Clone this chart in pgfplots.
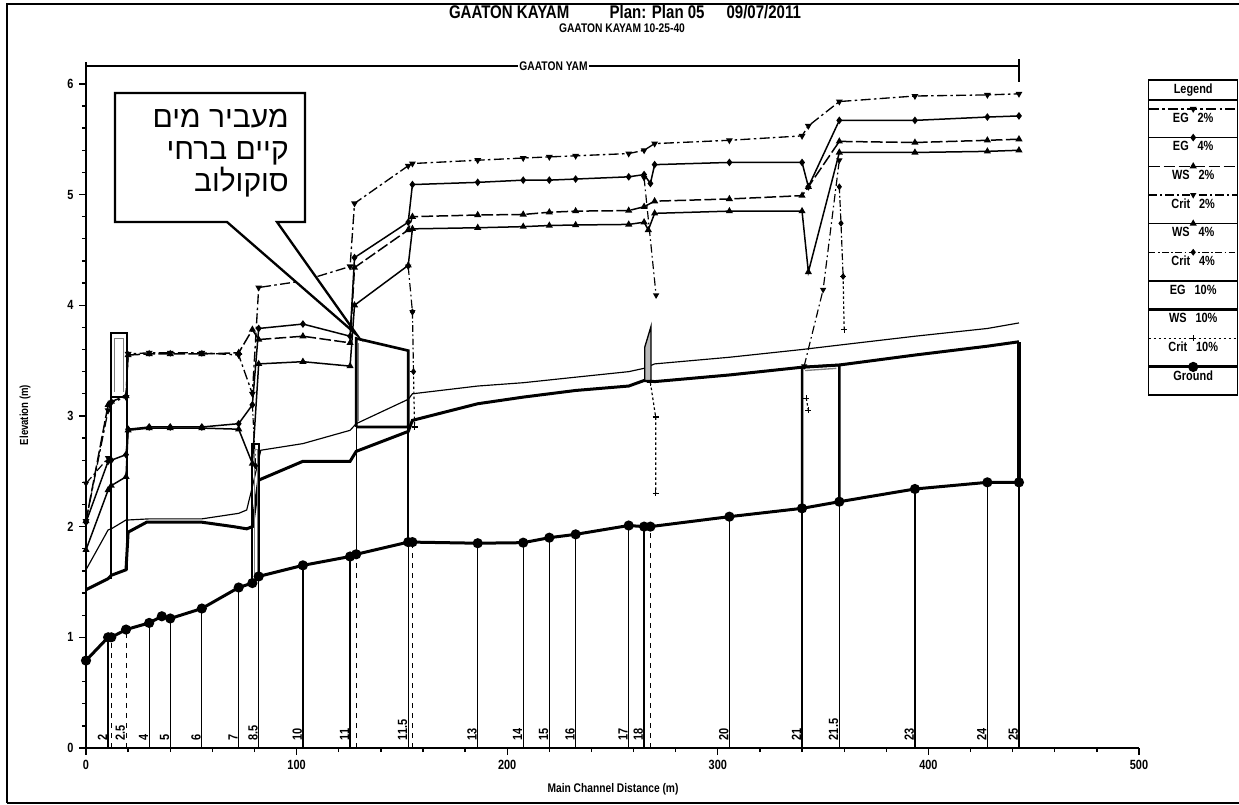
\documentclass[border=0pt]{standalone}
\usepackage{fontspec}
\setmainfont{Liberation Sans}[FakeStretch=0.82]
\newfontfamily\hebfont[Script=Hebrew]{Liberation Sans}
\usepackage{pgfplots}
\pgfplotsset{compat=1.18}
\TeXXeTstate=1
\begin{document}
\begin{tikzpicture}
\useasboundingbox (0,0) rectangle (743.4pt,482.4pt);
\begin{axis}[
  at={(51.6pt,33.6pt)}, anchor=south west,
  scale only axis, width=631.8pt, height=411.78pt,
  xmin=0, xmax=500, ymin=0, ymax=6.2,
  axis lines=left, axis line style={-, line width=1.1pt},
  xtick={0,100,...,500}, ytick={0,1,...,6},
  minor x tick num=4, minor y tick num=4,
  tick align=outside, major tick length=4pt, minor tick length=2.5pt,
  tick style={black, line width=0.8pt},
  ticklabel style={font=\bfseries\fontsize{8}{9}\selectfont},
  /pgf/number format/assume math mode=true,
  clip=false, unbounded coords=jump,
  legend style={at={(1.0085,0.9748)}, anchor=north west, draw=black, line width=0.9pt,
     fill=white, inner sep=0pt, row sep=0pt, column sep=0pt,
     font=\bfseries\fontsize{8}{9}\selectfont,
     nodes={inner sep=0pt, text width=53.4pt, align=center, text height=8.3pt, text depth=8.9pt}},
  legend image code/.code={\draw[overlay,#1,mark repeat=2,mark phase=2] plot coordinates {(0pt,8.3pt) (26.7pt,8.3pt) (53.4pt,8.3pt)};},
  every axis plot/.append style={black},
]
\addlegendimage{legend image code/.code={}}
\addlegendentry{Legend}
% EG 2%
\addplot[line width=0.8pt, dash pattern=on 6pt off 2pt on 1.5pt off 2pt, mark=triangle*, mark size=1.6pt, mark options={solid, rotate=180}]
 coordinates {(0,2.05)(10.5,3.05)(12,3.12)(19,3.17)(20,3.56)(30,3.57)(40,3.57)(55,3.57)(72.5,3.55)(79,3.20)(82,4.16)(103,4.22)(125.4,4.35)(127.5,4.92)(153,5.26)(155,5.28)(186,5.31)(207.6,5.33)(220,5.34)(232.5,5.35)(257.7,5.37)(265,5.40)(270,5.46)(305.5,5.49)(340,5.53)(343,5.62)(357.7,5.84)(393.6,5.89)(428,5.90)(443,5.91)};
\addlegendentry{EG\ \ 2\%}
% EG 4%
\addplot[line width=0.9pt, mark=diamond*, mark size=1.6pt, mark options={solid}]
 coordinates {(0,2.04)(10.5,2.59)(12,2.60)(19,2.65)(20,2.88)(30,2.90)(40,2.90)(55,2.90)(72.5,2.93)(79,3.10)(82,3.79)(103,3.83)(125.4,3.72)(127.5,4.43)(153,4.75)(155,5.09)(186,5.11)(207.6,5.13)(220,5.13)(232.5,5.14)(257.7,5.16)(265,5.18)(268,5.10)(270,5.27)(305.5,5.29)(340,5.29)(343,5.07)(357.7,5.67)(393.6,5.67)(428,5.70)(443,5.71)};
\addlegendentry{EG\ \ 4\%}
% WS 2%
\addplot[line width=0.9pt, dash pattern=on 7pt off 2pt, mark=triangle*, mark size=1.6pt, mark options={solid}]
 coordinates {(0,2.05)(10.5,3.10)(12,3.13)(19,3.18)(20,3.55)(30,3.56)(40,3.56)(55,3.56)(72.5,3.57)(79,3.78)(82,3.69)(103,3.72)(125.4,3.66)(127.5,4.34)(153,4.68)(155,4.80)(186,4.815)(207.6,4.82)(220,4.84)(232.5,4.85)(257.7,4.855)(265,4.89)(270,4.94)(305.5,4.96)(340,4.99)(343,5.07)(357.7,5.48)(393.6,5.47)(428,5.49)(443,5.50)};
\addlegendentry{WS\ \ 2\%}
% Crit 2%
\addplot[line width=0.7pt, dash pattern=on 5pt off 2pt on 1pt off 2pt, mark=triangle*, mark size=1.5pt, mark options={solid, rotate=180}]
 coordinates {(0,2.39)(10.5,2.62)(12,nan)(153,4.35)(155,3.94)(160,nan)(265,5.15)(270.7,4.09)(300,nan)(341,3.45)(350,4.14)(357.7,5.31)};
\addlegendentry{Crit\ \ 2\%}
% WS 4%
\addplot[line width=0.9pt, mark=triangle*, mark size=1.6pt, mark options={solid}]
 coordinates {(0,1.79)(10.5,2.33)(12,2.37)(19,2.45)(20,2.87)(30,2.89)(40,2.89)(55,2.89)(72.5,2.88)(79,2.57)(82,3.47)(103,3.49)(125.4,3.45)(127.5,4.00)(153,4.36)(155,4.69)(186,4.70)(207.6,4.71)(220,4.72)(232.5,4.725)(257.7,4.73)(265,4.75)(267,4.68)(270,4.83)(305.5,4.85)(340,4.85)(343,4.30)(357.7,5.38)(393.6,5.38)(428,5.39)(443,5.40)};
\addlegendentry{WS\ \ 4\%}
% Crit 4%
\addplot[line width=0.7pt, dash pattern=on 4pt off 1.5pt on 1pt off 1.5pt, mark=diamond*, mark size=1.5pt, mark options={solid}]
 coordinates {(79,3.10)(80.5,2.55)(100,nan)(155,3.94)(155.5,3.40)(200,nan)(357.7,5.07)(358.5,4.74)(359.5,4.26)};
\addlegendentry{Crit\ \ 4\%}
% EG 10%
\addplot[line width=0.7pt]
 coordinates {(0,1.61)(10.5,1.97)(12,1.98)(19,2.06)(20,2.06)(30,2.07)(40,2.07)(55,2.07)(72.5,2.12)(76.3,2.15)(79,2.36)(83,2.69)(103,2.75)(125.4,2.87)(128.3,2.93)(153,3.15)(155,3.20)(186,3.27)(207.6,3.30)(232.5,3.35)(257.7,3.40)(265,3.43)(270,3.47)(305.5,3.53)(340,3.60)(357.7,3.64)(393.6,3.72)(428,3.79)(443,3.84)};
\addlegendentry{EG\ \ 10\%}
% WS 10%
\addplot[line width=1.8pt]
 coordinates {(0,1.43)(10.5,1.53)(12,1.56)(19,1.61)(20,1.95)(28.8,2.04)(40,2.04)(55,2.04)(70,2.0)(76.3,1.98)(79,2.0)(82,2.42)(103,2.59)(125.4,2.59)(128.3,2.68)(153,2.86)(155,2.96)(186,3.11)(207.6,3.17)(232.5,3.23)(257.7,3.27)(265,3.32)(270,3.31)(305.5,3.37)(340,3.44)(357.7,3.46)(393.6,3.55)(428,3.63)(443,3.67)};
\addlegendentry{WS\ \ 10\%}
% Crit 10%
\addplot[line width=0.7pt, dash pattern=on 1.5pt off 1.5pt, mark=+, mark size=1.8pt, mark options={solid}]
 coordinates {(155.5,3.40)(156,2.90)(200,nan)(268,3.30)(270.5,2.99)(270.5,2.30)(300,nan)(342,3.16)(343,3.05)(350,nan)(359.5,4.26)(360,3.78)};
\addlegendentry{Crit\ \ 10\%}
% Ground
\addplot[line width=1.8pt, mark=*, mark size=2.1pt]
 coordinates {(0,0.79)(10.5,1.00)(12,1.00)(19,1.07)(30,1.13)(36,1.19)(40,1.17)(55,1.26)(72.5,1.45)(79,1.49)(82,1.55)(103,1.65)(125.4,1.73)(128.3,1.75)(153,1.86)(155,1.86)(186,1.85)(207.6,1.855)(220,1.90)(232.5,1.93)(257.7,2.01)(265,2.00)(268,2.00)(305.5,2.09)(340,2.165)(357.7,2.225)(393.6,2.34)(428,2.40)(443,2.40)};
\addlegendentry{Ground}
% station lines
\addplot[ycomb, line width=0.8pt, forget plot, no markers]
 coordinates {(10.5,1.00)(30,1.13)(40,1.17)(55,1.26)(72.5,1.45)(82,1.55)(103,1.65)(125.4,1.73)(153,1.86)(186,1.85)(207.6,1.855)(220,1.90)(232.5,1.93)(257.7,2.01)(265,2.00)(305.5,2.09)(340,2.165)(357.7,2.225)(393.6,2.34)(428,2.40)(443,2.40)};
\addplot[ycomb, line width=0.6pt, dashed, forget plot, no markers]
 coordinates {(12,1.00)(19.3,1.07)(128.3,1.75)(155,1.86)(268,2.00)};
% culvert 1
\addplot[line width=1.3pt, forget plot] coordinates {(12,1.53)(12,3.75)(19.3,3.75)(19.3,1.61)};
\addplot[line width=1.3pt, forget plot] coordinates {(12,3.17)(19.3,3.17)};
\addplot[gray, line width=0.6pt, forget plot] coordinates {(13.3,3.22)(13.3,3.70)(18.0,3.70)(18.0,3.22)};
% culvert 2
\addplot[line width=1.3pt, forget plot] coordinates {(78.7,1.49)(78.7,2.75)(82.3,2.75)(82.3,1.55)};
\addplot[gray, line width=0.6pt, forget plot] coordinates {(79.8,1.52)(79.8,2.70)(81.2,2.70)(81.2,1.55)};
% bridge
\addplot[line width=1.6pt, forget plot] coordinates {(128.3,2.90)(128.3,3.70)(153,3.59)(153,2.90)(128.3,2.90)};
\addplot[gray, line width=0.6pt, forget plot] coordinates {(129.6,2.95)(129.6,3.66)};
\addplot[line width=0.7pt, forget plot] coordinates {(128.3,2.90)(128.3,1.75)};
\addplot[line width=1.2pt, forget plot] coordinates {(153,2.90)(153,1.86)};
% culvert 4
\addplot[fill=gray!55, draw=black, line width=0.8pt, forget plot] coordinates {(265.3,3.32)(265.3,3.62)(268.3,3.81)(268.3,3.32)} -- cycle;
% box at 21-21.5
\addplot[line width=1.5pt, forget plot] coordinates {(340,2.165)(340,3.44)(357.7,3.46)(357.7,2.225)};
\addplot[gray, line width=0.8pt, forget plot] coordinates {(341.5,3.41)(356.3,3.43)};
\addplot[line width=2pt, forget plot] coordinates {(443,2.40)(443,3.67)};
% reach line
\addplot[line width=1.1pt, forget plot] coordinates {(0,6.16)(443,6.16)};
\addplot[line width=0.9pt, forget plot] coordinates {(443,6.22)(443,6.02)};
\node[fill=white, inner sep=1pt, font=\bfseries\fontsize{7.5}{8}\selectfont] at (axis cs:222,6.16) {GAATON YAM};
% station labels
\begin{scope}[every node/.style={rotate=90, anchor=south west, inner sep=0.4pt, xshift=-1.2pt, font=\bfseries\fontsize{8}{9}\selectfont}]
\node at (axis cs:10.5,0.08) {2};
\node at (axis cs:19,0.08) {2.5};
\node at (axis cs:30,0.08) {4};
\node at (axis cs:40,0.08) {5};
\node at (axis cs:55,0.08) {6};
\node at (axis cs:72.5,0.08) {7};
\node at (axis cs:82,0.08) {8.5};
\node at (axis cs:103,0.08) {10};
\node at (axis cs:125.4,0.08) {11};
\node at (axis cs:153,0.08) {11.5};
\node at (axis cs:186,0.08) {13};
\node at (axis cs:207.6,0.08) {14};
\node at (axis cs:220,0.08) {15};
\node at (axis cs:232.5,0.08) {16};
\node at (axis cs:257.7,0.08) {17};
\node at (axis cs:265,0.08) {18};
\node at (axis cs:305.5,0.08) {20};
\node at (axis cs:340,0.08) {21};
\node at (axis cs:357.7,0.08) {21.5};
\node at (axis cs:393.6,0.08) {23};
\node at (axis cs:428,0.08) {24};
\node at (axis cs:443,0.08) {25};
\end{scope}
\end{axis}
\begin{scope}[x=0.6pt,y=0.6pt]
% frame
\draw[line width=1.2pt] (7,1.3) -- (7,800) -- (1250,800);
\draw[line width=1.2pt] (7,1.3) -- (1250,1.3);
% titles
\node[anchor=base, font=\bfseries\fontsize{11}{13}\selectfont, inner sep=0pt] at (625,785) {GAATON KAYAM\hspace{2.2em}Plan: Plan 05\hspace{1.2em}09/07/2011};
\node[anchor=base, font=\bfseries\fontsize{7.5}{9}\selectfont, inner sep=0pt] at (622,771) {GAATON KAYAM 10-25-40};
\node[font=\bfseries\fontsize{7}{8}\selectfont, rotate=90] at (25,389) {Elevation (m)};
\node[font=\bfseries\fontsize{7.5}{8}\selectfont] at (613,15) {Main Channel Distance (m)};
% legend divider
\draw[line width=0.9pt] (1148,704) -- (1237,704);
% callout
\draw[line width=1.4pt, fill=white] (115,711) -- (305,711) -- (305,582) -- (277,582) -- (357,469) -- (227,582) -- (115,582) -- cycle;
\node[anchor=base east, font=\hebfont\fontsize{18}{20}\selectfont, inner sep=0pt] at (289,676) {\beginR מעביר מים\endR};
\node[anchor=base east, font=\hebfont\fontsize{18}{20}\selectfont, inner sep=0pt] at (289,644) {\beginR קיים ברחי\endR};
\node[anchor=base east, font=\hebfont\fontsize{18}{20}\selectfont, inner sep=0pt] at (289,612) {\beginR סוקולוב\endR};
\end{scope}
\end{tikzpicture}
\end{document}
